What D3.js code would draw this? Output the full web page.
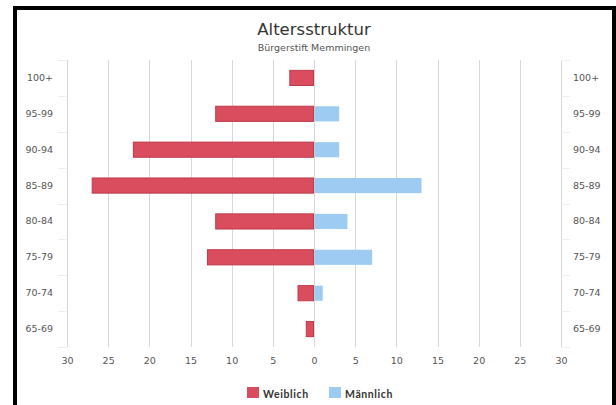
<!DOCTYPE html>
<html>
<head>
<meta charset="utf-8">
<script src="https://cdn.jsdelivr.net/npm/d3@7"></script>
<style>
  html, body { margin: 0; padding: 0; background: #fff; }
  svg { display: block; }
  text { font-family: "DejaVu Sans", "Noto Sans", sans-serif; }
</style>
</head>
<body>
<svg id="chart" width="616" height="405"></svg>
<script>
// Age groups, oldest first (top to bottom)
const ageGroups = ["100+", "95-99", "90-94", "85-89", "80-84", "75-79", "70-74", "65-69"];
// Residents per age group
const weiblich = [3, 12, 22, 27, 12, 13, 2, 1];
const maennlich = [0, 3, 3, 13, 4, 7, 1, 0];
const seriesNames = ["Weiblich", "Männlich"];
const xTicks = [-30, -25, -20, -15, -10, -5, 0, 5, 10, 15, 20, 25, 30];

const colors = { Weiblich: "#da4d5f", "Männlich": "#9ecbf1" };

const svg = d3.select("#chart");
const W = 616, H = 405;

// Frame
svg.append("rect").attr("x", 0).attr("y", 0).attr("width", W).attr("height", H).attr("fill", "#fff");
svg.append("rect").attr("x", 13).attr("y", 6).attr("width", 4).attr("height", H - 6).attr("fill", "#000");
svg.append("rect").attr("x", 13).attr("y", 6).attr("width", W - 13).attr("height", 4).attr("fill", "#000");
svg.append("rect").attr("x", 612).attr("y", 6).attr("width", 4).attr("height", H - 6).attr("fill", "#000");

const plot = { left: 67, right: 561, top: 60, bottom: 347 };

const x = d3.scaleLinear().domain([-30, 30]).range([plot.left, plot.right]);
const y = d3.scaleBand().domain(ageGroups).range([plot.top, plot.bottom]).paddingInner(0.55).paddingOuter(0.275);
const yOuter = d3.scaleBand().domain(ageGroups).range([plot.top, plot.bottom]);

// Titles
svg.append("text").attr("x", 314).attr("y", 35).attr("text-anchor", "middle")
  .attr("font-size", 16.5).attr("fill", "#333").text("Altersstruktur");
svg.append("text").attr("x", 314).attr("y", 51).attr("text-anchor", "middle")
  .attr("font-size", 9.5).attr("fill", "#555").text("Bürgerstift Memmingen");

// Vertical grid lines
svg.append("g").selectAll("line").data(xTicks).join("line")
  .attr("x1", d => Math.round(x(d)) + 0.5).attr("x2", d => Math.round(x(d)) + 0.5)
  .attr("y1", plot.top).attr("y2", plot.bottom)
  .attr("stroke", "#d8d8d8").attr("stroke-width", 1);

// Category tick marks on left/right axes
const bounds = ageGroups.map(g => yOuter(g)).concat([plot.bottom]);
svg.append("g").selectAll("line").data(bounds).join("line")
  .attr("x1", plot.left - 9).attr("x2", plot.left)
  .attr("y1", d => Math.round(d) + 0.5).attr("y2", d => Math.round(d) + 0.5)
  .attr("stroke", "#efefef");
svg.append("g").selectAll("line").data(bounds).join("line")
  .attr("x1", plot.right).attr("x2", plot.right + 9)
  .attr("y1", d => Math.round(d) + 0.5).attr("y2", d => Math.round(d) + 0.5)
  .attr("stroke", "#efefef");

// Bottom axis labels (absolute values)
const xAxis = d3.axisBottom(x).tickValues(xTicks).tickFormat(d => Math.abs(d)).tickSize(0).tickPadding(0);
const gx = svg.append("g").attr("transform", `translate(0,${plot.bottom + 17})`).call(xAxis);
gx.select(".domain").remove();
gx.selectAll("text").attr("font-size", 9.5).attr("fill", "#555").attr("dy", 0)
  .style("font-family", "'DejaVu Sans', sans-serif");

// Left and right category labels
const yLeft = d3.axisLeft(yOuter).tickSize(0).tickPadding(0);
const gl = svg.append("g").attr("transform", `translate(${plot.left - 14},0)`).call(yLeft);
gl.select(".domain").remove();
gl.selectAll("text").attr("font-size", 9.5).attr("fill", "#555").style("font-family", "'DejaVu Sans', sans-serif");

const yRight = d3.axisRight(yOuter).tickSize(0).tickPadding(0);
const gr = svg.append("g").attr("transform", `translate(${plot.right + 12},0)`).call(yRight);
gr.select(".domain").remove();
gr.selectAll("text").attr("font-size", 9.5).attr("fill", "#555").style("font-family", "'DejaVu Sans', sans-serif");

// Bars
const rows = ageGroups.map((g, i) => ({ g, w: weiblich[i], m: maennlich[i] }));
svg.append("g").selectAll("rect").data(rows.filter(d => d.w > 0)).join("rect")
  .attr("x", d => x(-d.w) + 0.5).attr("width", d => x(0) - x(-d.w) - 1)
  .attr("y", d => y(d.g) + 0.5).attr("height", y.bandwidth() - 1)
  .attr("fill", colors.Weiblich).attr("stroke", "#c03a4c").attr("stroke-width", 1);
svg.append("g").selectAll("rect").data(rows.filter(d => d.m > 0)).join("rect")
  .attr("x", d => x(0) + 0.5).attr("width", d => x(d.m) - x(0))
  .attr("y", d => y(d.g) + 0.5).attr("height", y.bandwidth() - 1)
  .attr("fill", colors["Männlich"]);

// Legend
const legendItems = [
  { name: seriesNames[0], x: 247 },
  { name: seriesNames[1], x: 329 }
];
const lg = svg.append("g");
legendItems.forEach(it => {
  lg.append("rect").attr("x", it.x).attr("y", 387).attr("width", 12).attr("height", 11)
    .attr("fill", colors[it.name]);
  lg.append("text").attr("x", it.x + 16).attr("y", 398).attr("font-size", 10.5)
    .attr("font-weight", "bold").attr("fill", "#333").style("font-family", "Lato, sans-serif")
    .attr("letter-spacing", 0.6).text(it.name);
});
</script>
</body>
</html>
